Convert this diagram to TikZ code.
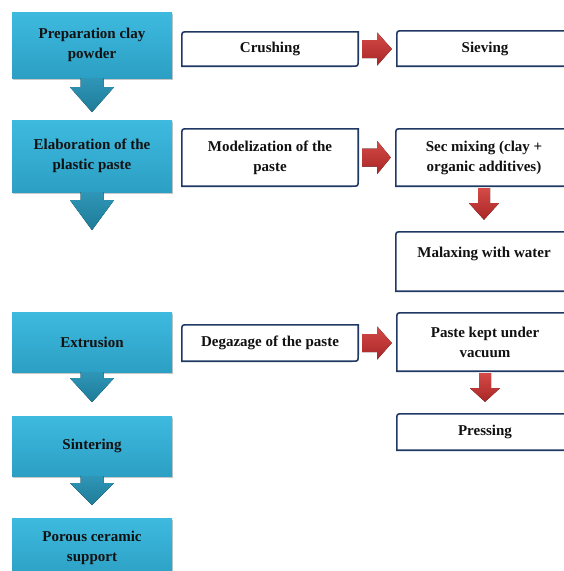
\documentclass[tikz,border=0pt]{standalone}
\usepackage{fontspec}
\setmainfont{Liberation Serif}
\usetikzlibrary{shadows,calc}
\definecolor{blueTop}{HTML}{3EBADF}
\definecolor{blueBot}{HTML}{2C9FC4}
\definecolor{arrTop}{HTML}{2F96B7}
\definecolor{arrBot}{HTML}{1E7B98}
\definecolor{redTop}{HTML}{D44A47}
\definecolor{redBot}{HTML}{A82626}
\definecolor{navy}{HTML}{1F3864}
\definecolor{txt}{HTML}{111111}
\newcommand\wshape[1]{\draw[wline] (#1.south west) -- ($(#1.north west)+(0,6)$) .. controls (#1.north west) .. ($(#1.north west)+(6,0)$) -- (#1.north east) -- ($(#1.south east)+(0,-6)$) .. controls (#1.south east) .. ($(#1.south east)+(-6,0)$) -- cycle;}
\newcommand\bluearr[3]{\fill[bluearrow] ($(#1.south)+(-11.5,0)$) -- ($(#1.south)+(-11.5,#2)$) -- ($(#1.south)+(-22,#2)$) -- ($(#1.south)+(0,#3)$) -- ($(#1.south)+(22,#2)$) -- ($(#1.south)+(11.5,#2)$) -- ($(#1.south)+(11.5,0)$) -- cycle;}
\newcommand\redh[2]{\fill[redarrow] ($(#1.east)+(4,-9)$) -- ($(#1.east)+(19,-9)$) -- ($(#1.east)+(19,-16.5)$) -- ($(#2.west |- #1.east)+(-5,0)$) -- ($(#1.east)+(19,16.5)$) -- ($(#1.east)+(19,9)$) -- ($(#1.east)+(4,9)$) -- cycle;}
\newcommand\redv[2]{\fill[redarrow] ($(#1.south)+(-6,2)$) -- ($(#1.south)+(-6,17)$) -- ($(#1.south)+(-15,17)$) -- ($(#1.south |- #2.north)+(0,-12)$) -- ($(#1.south)+(15,17)$) -- ($(#1.south)+(6,17)$) -- ($(#1.south)+(6,2)$) -- cycle;}
\begin{document}
\begin{tikzpicture}[x=1pt,y=-1pt,
  lbl/.style={font=\fontsize{15}{20}\selectfont\bfseries, text=txt, align=center, inner sep=0pt},
  bluebox/.style={lbl, rectangle, minimum width=160pt, top color=blueTop, bottom color=blueBot,
    drop shadow={shadow xshift=1pt, shadow yshift=-2pt, fill=black, opacity=0.22}},
  whitebox/.style={lbl, rectangle, minimum width=176pt},
  wline/.style={draw=navy, line width=1.6pt, fill=white},
  bluearrow/.style={top color=arrTop, bottom color=arrBot},
  redarrow/.style={top color=redTop, bottom color=redBot}]
\useasboundingbox (0,0) rectangle (564,571);
\fill[white] (0,0) rectangle (564,571);
\clip (0,0) rectangle (564,571);

% left column
\node[bluebox, minimum height=66pt] (b1) at (92,45) {Preparation clay\\powder};
\node[bluebox, minimum height=72pt] (b2) at (92,156) {Elaboration of the\\plastic paste};
\node[bluebox, minimum height=60pt] (b3) at (92,342) {Extrusion};
\node[bluebox, minimum height=60pt] (b4) at (92,446) {Sintering};
\node[bluebox, minimum height=60pt] (b5) at (92,548) {Porous ceramic\\support};

\coordinate (a1) at ($(b1.south)+(0,34)$);
\coordinate (a2) at ($(b2.south)+(0,38)$);
\coordinate (a3) at ($(b3.south)+(0,30)$);
\coordinate (a4) at ($(b4.south)+(0,29)$);
\bluearr{b1}{9}{34}
\bluearr{b2}{8}{38}
\bluearr{b3}{6}{30}
\bluearr{b4}{7}{29}

% white boxes
\node[whitebox, minimum height=34pt] (crush) at (270,49) {};
\node[whitebox, minimum height=35pt] (siev) at (485,48.5) {};
\node[whitebox, minimum height=57pt] (model) at (270,157.5) {};
\node[whitebox, minimum height=57pt] (secmix) at (484,157.5) {};
\node[whitebox, minimum height=59pt] (malax) at (484,261.5) {};
\node[whitebox, minimum height=36pt] (degaz) at (270,343) {};
\node[whitebox, minimum height=58pt] (paste) at (485,342) {};
\node[whitebox, minimum height=36pt] (press) at (485,432) {};
\foreach \n in {crush,siev,model,secmix,malax,degaz,paste,press} {\wshape{\n}}
\node[lbl] at (crush) {Crushing};
\node[lbl] at (siev) {Sieving};
\node[lbl] at (model) {Modelization of the\\paste};
\node[lbl] at (secmix) {Sec mixing (clay +\\organic additives)};
\node[lbl] at ($(malax)+(0,-8)$) {Malaxing with water};
\node[lbl] at (degaz) {Degazage of the paste};
\node[lbl] at (paste) {Paste kept under\\vacuum};
\node[lbl] at (press) {Pressing};

% red arrows
\redh{crush}{siev}
\redh{model}{secmix}
\redh{degaz}{paste}
\redv{secmix}{malax}
\redv{paste}{press}
\end{tikzpicture}
\end{document}
